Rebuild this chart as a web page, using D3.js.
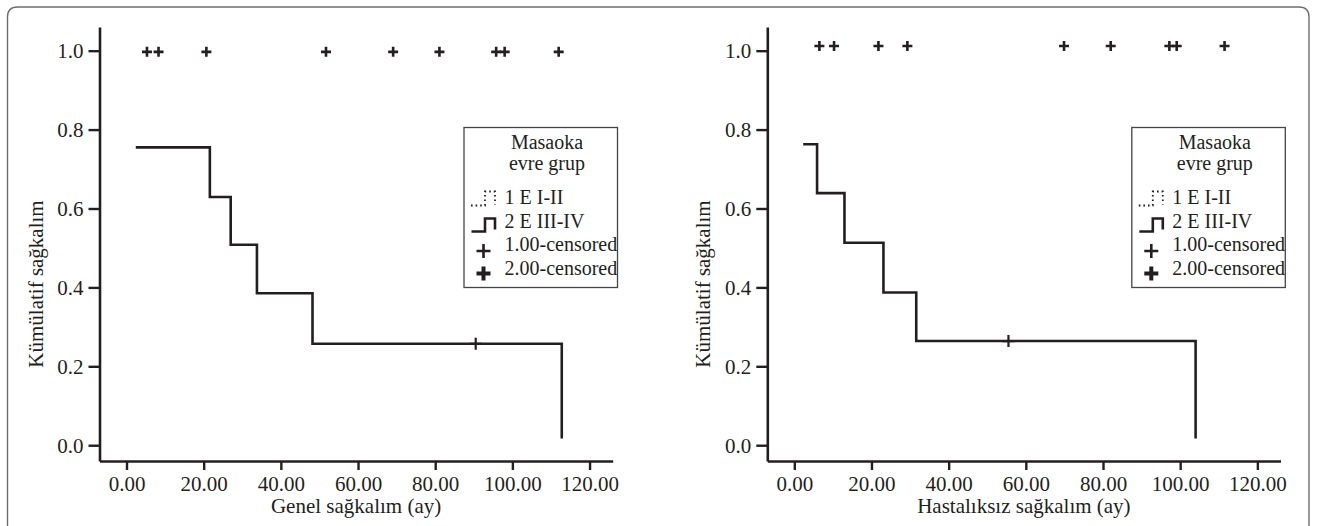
<!DOCTYPE html>
<html>
<head>
<meta charset="utf-8">
<script src="https://cdn.jsdelivr.net/npm/d3@7"></script>
<style>
  html, body { margin: 0; padding: 0; background: #fff; }
  svg { display: block; }
  svg text { font-family: "Liberation Serif", "Times New Roman", Times, "DejaVu Serif", serif !important; fill: #231f20; }
</style>
</head>
<body>
<svg id="chart" width="1325" height="526"></svg>
<script>
// ---------- data ----------
const xTicks = [0, 20, 40, 60, 80, 100, 120];
const yTicks = [0.0, 0.2, 0.4, 0.6, 0.8, 1.0];

const legendTitle = ["Masaoka", "evre grup"];
const legendLabels = ["1 E I-II", "2 E III-IV", "1.00-censored", "2.00-censored"];

// Panel 1: Genel sağkalım
const osTimes    = [2.4, 21.6, 27.0, 33.8, 48.2, 112.8];
const osSurvival = [0.755, 0.629, 0.508, 0.385, 0.257, 0.017];
const osCurveCensorTimes = [90.5];
const osCurveCensorValues = [0.257];
const osTopCensorTimes = [5.3, 8.3, 20.7, 51.7, 69.1, 81.1, 95.8, 98.0, 112.0];
const osTopCensorValue = 0.997;

// Panel 2: Hastalıksız sağkalım
const dfsTimes    = [2.3, 5.9, 13.0, 23.1, 31.6, 104.0];
const dfsSurvival = [0.763, 0.639, 0.513, 0.387, 0.264, 0.017];
const dfsCurveCensorTimes = [55.5];
const dfsCurveCensorValues = [0.264];
const dfsTopCensorTimes = [6.5, 10.3, 21.8, 29.3, 69.9, 82.0, 97.2, 99.1, 111.5];
const dfsTopCensorValue = 1.012;

const panels = [
  { x0: 99.5, xTitle: "Genel sağkalım (ay)", times: osTimes, surv: osSurvival,
    cT: osCurveCensorTimes, cV: osCurveCensorValues, topT: osTopCensorTimes, topV: osTopCensorValue },
  { x0: 767.3, xTitle: "Hastalıksız sağkalım (ay)", times: dfsTimes, surv: dfsSurvival,
    cT: dfsCurveCensorTimes, cV: dfsCurveCensorValues, topT: dfsTopCensorTimes, topV: dfsTopCensorValue }
];

// ---------- drawing ----------
const FONT = '"Liberation Serif", "Times New Roman", Times, "DejaVu Serif", serif';
const svg = d3.select("#chart");
const ink = "#231f20";

// outer frame with rounded top corners
svg.append("path")
  .attr("d", "M7.5,540 V17 Q7.5,7 17.5,7 H1299 Q1309,7 1309,17 V540")
  .attr("fill", "none").attr("stroke", "#6d6d6d").attr("stroke-width", 1.4);

const axisW = 513.2;
const yTop = 27, yBot = 461;
const y = d3.scaleLinear().domain([-0.04, 1.06]).range([yBot, yTop]);

function plus(g, cx, cy, arm, sw) {
  g.append("path")
    .attr("d", `M${cx - arm},${cy} H${cx + arm} M${cx},${cy - arm} V${cy + arm}`)
    .attr("stroke", ink).attr("stroke-width", sw).attr("fill", "none");
}

panels.forEach(p => {
  const x = d3.scaleLinear().domain([-7, 126]).range([p.x0, p.x0 + axisW]);
  const g = svg.append("g").attr("font-family", FONT);

  // y axis
  const ya = g.append("g").attr("transform", `translate(${p.x0},0)`)
    .call(d3.axisLeft(y).tickValues(yTicks).tickFormat(d3.format(".1f")).tickSize(11).tickSizeOuter(0).tickPadding(5));
  // x axis
  const xa = g.append("g").attr("transform", `translate(0,${yBot})`)
    .call(d3.axisBottom(x).tickValues(xTicks).tickFormat(d3.format(".2f")).tickSize(9).tickSizeOuter(0).tickPadding(5));

  [ya, xa].forEach(a => {
    a.attr("font-family", FONT).attr("font-size", 21);
    a.select(".domain").attr("stroke", ink).attr("stroke-width", 2.6);
    a.selectAll(".tick line").attr("stroke", ink).attr("stroke-width", 2.4);
    a.selectAll(".tick text").attr("font-family", FONT).attr("font-size", 21).attr("fill", ink);
  });
  ya.selectAll(".tick text").attr("dy", "0.34em");
  xa.selectAll(".tick text").attr("dy", "0.74em");

  // axis titles
  g.append("text")
    .attr("x", p.x0 + axisW / 2).attr("y", 513)
    .attr("text-anchor", "middle").attr("font-size", 21)
    .text(p.xTitle);
  g.append("text")
    .attr("transform", `translate(${p.x0 - 57},${284}) rotate(-90)`)
    .attr("text-anchor", "middle").attr("font-size", 21)
    .text("Kümülatif sağkalım");

  // step curve
  const pts = p.times.map((t, i) => [t, p.surv[i]]);
  const line = d3.line().x(d => x(d[0])).y(d => y(d[1])).curve(d3.curveStepAfter);
  g.append("path").attr("d", line(pts))
    .attr("fill", "none").attr("stroke", ink).attr("stroke-width", 2.6);

  // censor marks on curve
  p.cT.forEach((t, i) => plus(g, x(t), y(p.cV[i]), 6, 2.2));
  // censor marks at top (group 1)
  p.topT.forEach(t => plus(g, x(t), y(p.topV), 5, 2.6));

  // legend
  const lx = p.x0 + 364.5, ly = 127.5;
  const lg = g.append("g");
  lg.append("rect").attr("x", lx).attr("y", ly).attr("width", 153.5).attr("height", 160)
    .attr("fill", "#fff").attr("stroke", "#444").attr("stroke-width", 1.3);
  legendTitle.forEach((t, i) => {
    lg.append("text").attr("x", lx + 83).attr("y", ly + 21 + i * 21)
      .attr("text-anchor", "middle").attr("font-size", 20).text(t);
  });
  const tx = lx + 40.5;
  const rowBase = [76.5, 100, 123.5, 147];
  legendLabels.forEach((t, i) => {
    lg.append("text").attr("x", tx).attr("y", ly + rowBase[i])
      .attr("font-size", 20).text(t);
  });
  // dotted step symbol
  lg.append("path")
    .attr("d", `M${lx + 7},${ly + 78} H${lx + 21} V${ly + 64} H${lx + 31} V${ly + 77}`)
    .attr("fill", "none").attr("stroke", ink).attr("stroke-width", 1.8)
    .attr("stroke-dasharray", "1.6,3");
  // solid step symbol
  lg.append("path")
    .attr("d", `M${lx + 7.5},${ly + 104} H${lx + 21} V${ly + 91} H${lx + 31} V${ly + 102}`)
    .attr("fill", "none").attr("stroke", ink).attr("stroke-width", 2.6);
  plus(lg, lx + 19.5, ly + 123.5, 7, 2.6);
  plus(lg, lx + 19.5, ly + 146, 7, 4);
});
</script>
</body>
</html>
